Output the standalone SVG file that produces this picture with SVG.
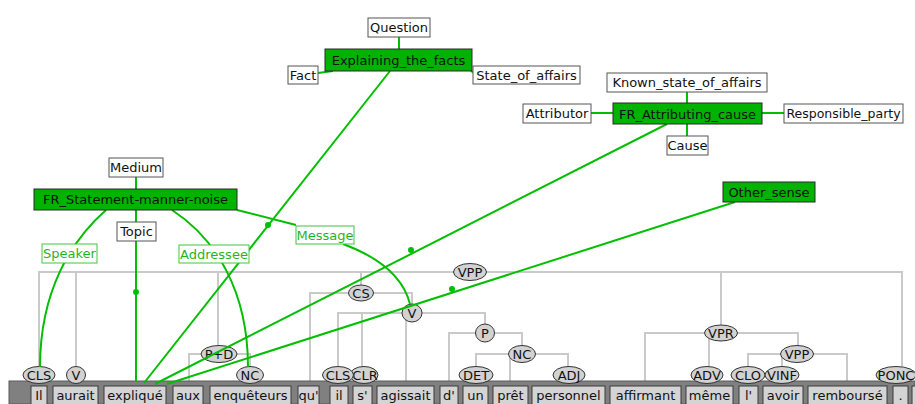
<svg xmlns="http://www.w3.org/2000/svg" width="915" height="404" viewBox="0 0 915 404">
<style>
text{font-family:"DejaVu Sans","Liberation Sans",sans-serif;font-size:13px;text-anchor:middle;fill:#111}
.frame rect{fill:#00b300;stroke:#2a2a2a;stroke-width:1}
.role rect{fill:#fff;stroke:#555;stroke-width:1}
.lab rect{fill:#fff;stroke:#3cc83c;stroke-width:1}
.lab text{fill:#1fb41f}
.tree path{fill:none;stroke:#cacaca;stroke-width:2}
.fe path,.fe line{fill:none;stroke:#00bf00;stroke-width:2}
.fe circle{fill:#00bf00}
.nd ellipse{fill:#d2d2d2;stroke:#333;stroke-width:1}
.nd text{font-size:13px}
.w rect{fill:#d4d4d4;stroke:#3a3a3a;stroke-width:1}
</style>
<rect width="915" height="404" fill="#fff"/>

<g id="tree-edges" class="tree">
<path d="M39,367 V272 H902 V366"/>
<path d="M76,272 V367"/>
<path d="M136,272 V384"/>
<path d="M218,272 V346"/>
<path d="M361,272 V285"/>
<path d="M721,272 V325"/>
<path d="M189,386 V354 H250 V367"/>
<path d="M310,386 V293 H412 V304"/>
<path d="M338,367 V313 H485 V324"/>
<path d="M362,313 V367"/>
<path d="M406,313 V386"/>
<path d="M449,386 V333 H522 V345"/>
<path d="M476,367 V354 H568 V367"/>
<path d="M510,354 V386"/>
<path d="M645,386 V333 H798 V346"/>
<path d="M709,333 V367"/>
<path d="M748,367 V354 H847 V386"/>
<path d="M782,354 V367"/>
</g>

<g id="words">
<rect x="9" y="381" width="906" height="23" fill="#808080" stroke="#5a5a5a" stroke-width="1"/>
<g class="w">
<rect x="31" y="386" width="16" height="22"/><text x="39" y="400">Il</text>
<rect x="53" y="386" width="45" height="22"/><text x="75.5" y="400">aurait</text>
<rect x="104" y="386" width="62" height="22"/><text x="135" y="400">expliqué</text>
<rect x="173" y="386" width="30" height="22"/><text x="188" y="400">aux</text>
<rect x="210" y="386" width="81" height="22"/><text x="250.5" y="400">enquêteurs</text>
<rect x="298" y="386" width="21" height="22"/><text x="308.5" y="400">qu'</text>
<rect x="330" y="386" width="18" height="22"/><text x="339" y="400">il</text>
<rect x="353" y="386" width="19" height="22"/><text x="362.5" y="400">s'</text>
<rect x="377" y="386" width="57" height="22"/><text x="405.5" y="400">agissait</text>
<rect x="440" y="386" width="18" height="22"/><text x="449" y="400">d'</text>
<rect x="463" y="386" width="25" height="22"/><text x="475.5" y="400">un</text>
<rect x="493" y="386" width="35" height="22"/><text x="510.5" y="400">prêt</text>
<rect x="532" y="386" width="73" height="22"/><text x="568.5" y="400">personnel</text>
<rect x="610" y="386" width="71" height="22"/><text x="645.5" y="400">affirmant</text>
<rect x="686" y="386" width="47" height="22"/><text x="709.5" y="400">même</text>
<rect x="739" y="386" width="19" height="22"/><text x="748.5" y="400">l'</text>
<rect x="763" y="386" width="40" height="22"/><text x="783" y="400">avoir</text>
<rect x="808" y="386" width="79" height="22"/><text x="847.5" y="400">remboursé</text>
<rect x="893" y="386" width="15" height="22"/><text x="900.5" y="400">.</text>
<rect x="912" y="386" width="20" height="22"/>
</g>
</g>

<g id="tree-nodes" class="nd">
<g id="n-vpp-root"><ellipse cx="470" cy="272" rx="16.5" ry="8.5"/><text x="470" y="276.5">VPP</text></g>
<g id="n-cls1"><ellipse cx="39" cy="375" rx="16" ry="8.5"/><text x="39" y="379.5">CLS</text></g>
<g id="n-v1"><ellipse cx="76" cy="375" rx="9.5" ry="8.5"/><text x="76" y="379.5">V</text></g>
<g id="n-pd"><ellipse cx="219" cy="354" rx="18" ry="8.5"/><text x="219" y="358.5">P+D</text></g>
<g id="n-nc1"><ellipse cx="250" cy="375" rx="13.5" ry="8.5"/><text x="250" y="379.5">NC</text></g>
<g id="n-cs"><ellipse cx="361" cy="293" rx="12.5" ry="8"/><text x="361" y="297.5">CS</text></g>
<g id="n-v2"><ellipse cx="412" cy="313" rx="10" ry="9"/><text x="412" y="317.5">V</text></g>
<g id="n-clr"><ellipse cx="364" cy="375" rx="14" ry="8.5"/><text x="365" y="379.5">CLR</text></g>
<g id="n-cls2"><ellipse cx="338" cy="375" rx="15.5" ry="8.5"/><text x="338" y="379.5">CLS</text></g>
<g id="n-p"><ellipse cx="485" cy="333" rx="9.5" ry="9"/><text x="485" y="337.5">P</text></g>
<g id="n-nc2"><ellipse cx="522" cy="354" rx="13.5" ry="8.5"/><text x="522" y="358.5">NC</text></g>
<g id="n-det"><ellipse cx="476" cy="375" rx="17" ry="8.5"/><text x="476" y="379.5">DET</text></g>
<g id="n-adj"><ellipse cx="569" cy="375" rx="16" ry="8.5"/><text x="569" y="379.5">ADJ</text></g>
<g id="n-vpr"><ellipse cx="721" cy="333" rx="16.5" ry="8"/><text x="721" y="337.5">VPR</text></g>
<g id="n-vpp2"><ellipse cx="797" cy="354" rx="16.5" ry="8.5"/><text x="797" y="358.5">VPP</text></g>
<g id="n-adv"><ellipse cx="707" cy="375" rx="16" ry="8.5"/><text x="707" y="379.5">ADV</text></g>
<g id="n-clo"><ellipse cx="748" cy="375" rx="17" ry="8.5"/><text x="748" y="379.5">CLO</text></g>
<g id="n-vinf"><ellipse cx="782" cy="375" rx="17" ry="8.5"/><text x="782" y="379.5">VINF</text></g>
<g id="n-ponc"><ellipse cx="896" cy="375" rx="20" ry="8.5"/><text x="896" y="379.5">PONC</text></g>
</g>

<g id="frame-edges" class="fe">
<line x1="399" y1="37" x2="399" y2="49"/>
<line x1="318" y1="73" x2="333" y2="71"/>
<line x1="471" y1="71" x2="474" y2="73"/>
<line x1="390" y1="71" x2="144" y2="383"/>
<circle cx="268" cy="225" r="3"/>
<line x1="687" y1="92" x2="687" y2="103"/>
<line x1="591" y1="113" x2="613" y2="113"/>
<line x1="762" y1="113" x2="784" y2="113"/>
<line x1="687" y1="124" x2="687" y2="136"/>
<line x1="667" y1="124" x2="155" y2="384"/>
<circle cx="411" cy="250" r="3"/>
<line x1="735" y1="202" x2="167" y2="384"/>
<circle cx="452" cy="289" r="3"/>
<line x1="136" y1="177" x2="136" y2="189"/>
<line x1="136" y1="210" x2="136" y2="382"/>
<circle cx="136" cy="292" r="3"/>
<path d="M106,210 C72,240 40,290 40,367"/>
<path d="M172,210 C215,238 248,290 248,367"/>
<path d="M237,210 L296,225 M343,244 Q400,265 410,304"/>
</g>

<g id="f-explaining" class="frame"><rect x="325" y="49" width="147" height="22"/><text x="398.5" y="65">Explaining_the_facts</text></g>
<g id="r-question" class="role"><rect x="368" y="18" width="62" height="19"/><text x="399" y="32">Question</text></g>
<g id="r-fact" class="role"><rect x="288" y="66" width="30" height="18"/><text x="303" y="80">Fact</text></g>
<g id="r-state" class="role"><rect x="473" y="66" width="107" height="18"/><text x="526.5" y="80">State_of_affairs</text></g>

<g id="f-attributing" class="frame"><rect x="613" y="103" width="149" height="21"/><text x="687.5" y="118.5">FR_Attributing_cause</text></g>
<g id="r-known" class="role"><rect x="607" y="73" width="160" height="19"/><text x="687" y="87">Known_state_of_affairs</text></g>
<g id="r-attributor" class="role"><rect x="523" y="104" width="68" height="19"/><text x="557" y="118">Attributor</text></g>
<g id="r-responsible" class="role"><rect x="784" y="104" width="119" height="19"/><text x="843.5" y="118" style="font-size:12.5px">Responsible_party</text></g>
<g id="r-cause" class="role"><rect x="667" y="136" width="41" height="19"/><text x="687.5" y="150">Cause</text></g>

<g id="f-other" class="frame"><rect x="723" y="182" width="92" height="20"/><text x="769" y="196.5">Other_sense</text></g>

<g id="f-statement" class="frame"><rect x="34" y="189" width="203" height="21"/><text x="135.5" y="204">FR_Statement-manner-noise</text></g>
<g id="r-medium" class="role"><rect x="109" y="158" width="54" height="19"/><text x="136" y="172">Medium</text></g>
<g id="r-topic" class="role"><rect x="117" y="222" width="39" height="19"/><text x="136.5" y="236">Topic</text></g>
<g id="l-speaker" class="lab"><rect x="42" y="244" width="55" height="19"/><text x="69.5" y="258">Speaker</text></g>
<g id="l-addressee" class="lab"><rect x="179" y="245" width="70" height="18"/><text x="214" y="259">Addressee</text></g>
<g id="l-message" class="lab"><rect x="296" y="226" width="58" height="18"/><text x="325" y="240">Message</text></g>
</svg>
